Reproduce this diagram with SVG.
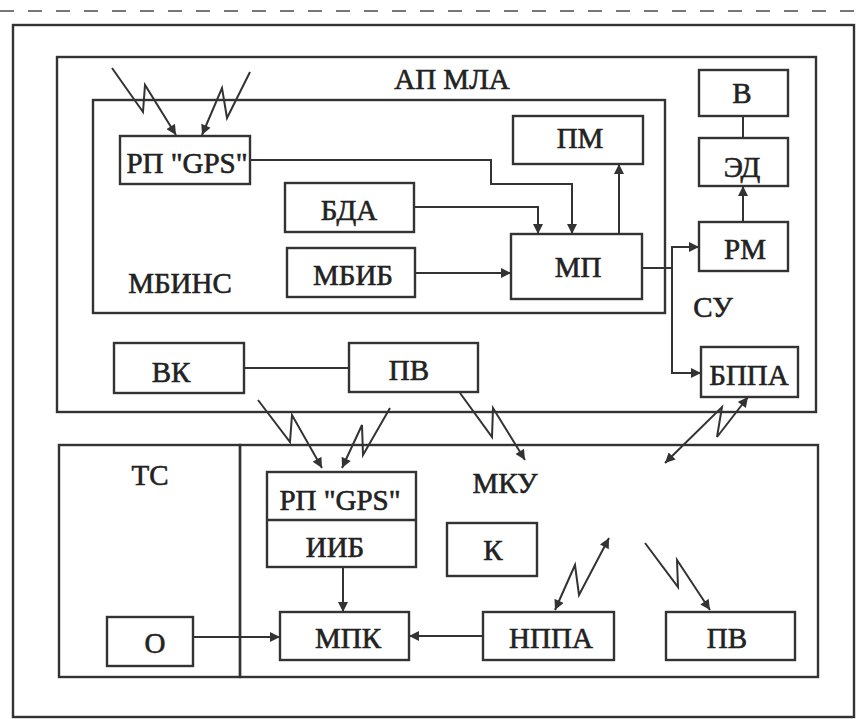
<svg xmlns="http://www.w3.org/2000/svg" width="859" height="719" viewBox="0 0 859 719">
<style>
.b{fill:none;stroke:#333;stroke-width:2.4}
.c{fill:none;stroke:#333;stroke-width:2}
.t{font-family:"Liberation Serif","DejaVu Serif",serif;font-size:29px;fill:#222;stroke:#222;stroke-width:0.6;text-anchor:middle}
</style>
<defs>
<marker id="ah" viewBox="0 0 10 10" refX="10" refY="5" markerWidth="11" markerHeight="10" markerUnits="userSpaceOnUse" orient="auto-start-reverse">
<path d="M0,0 L10,5 L0,10 Z" fill="#333"/>
</marker>
</defs>
<rect width="859" height="719" fill="#fff"/>
<line x1="0" y1="11" x2="859" y2="11" stroke="#777" stroke-width="2" stroke-dasharray="14 14"/>
<rect id="outer" class="b" x="13" y="25" width="841" height="692"/>
<g id="apmla"><rect class="b" x="57" y="57" width="759" height="355"/><text class="t" x="452" y="89">АП МЛА</text></g>
<g id="mbins"><rect class="b" x="93" y="100" width="572" height="213"/><text class="t" x="180" y="293">МБИНС</text></g>
<g id="rp1"><rect class="b" x="120" y="136" width="130" height="48"/><text class="t" x="187" y="173">РП "GPS"</text></g>
<g id="pm"><rect class="b" x="513" y="116" width="130" height="48"/><text class="t" x="580" y="148">ПМ</text></g>
<g id="bda"><rect class="b" x="285" y="183" width="129" height="49"/><text class="t" x="349" y="220">БДА</text></g>
<g id="mbib"><rect class="b" x="287" y="248" width="128" height="49"/><text class="t" x="353" y="285">МБИБ</text></g>
<g id="mp"><rect class="b" x="511" y="234" width="131" height="65"/><text class="t" x="578" y="277">МП</text></g>
<g id="v"><rect class="b" x="699" y="70" width="89" height="46"/><text class="t" x="742" y="103">В</text></g>
<g id="ed"><rect class="b" x="699" y="138" width="89" height="48"/><text class="t" x="742" y="177">ЭД</text></g>
<g id="rm"><rect class="b" x="699" y="222" width="89" height="49"/><text class="t" x="745" y="259">РМ</text></g>
<g id="su"><text class="t" x="713" y="317">СУ</text></g>
<g id="bppa"><rect class="b" x="701" y="347" width="97" height="50"/><text class="t" x="749" y="385">БППА</text></g>
<g id="vk"><rect class="b" x="114" y="343" width="130" height="50"/><text class="t" x="171" y="382">ВК</text></g>
<g id="pv1"><rect class="b" x="349" y="343" width="129" height="49"/><text class="t" x="409" y="380">ПВ</text></g>
<g id="ts"><rect class="b" x="59" y="445" width="181" height="232"/><text class="t" x="150" y="485">ТС</text></g>
<g id="mku"><rect class="b" x="240" y="445" width="578" height="232"/><text class="t" x="505" y="493">МКУ</text></g>
<g id="rp2"><rect class="b" x="267" y="472" width="149" height="95"/><line class="b" x1="267" y1="520" x2="416" y2="520"/><text class="t" x="340" y="510">РП "GPS"</text><text class="t" x="335" y="557">ИИБ</text></g>
<g id="k"><rect class="b" x="447" y="523" width="90" height="53"/><text class="t" x="493" y="560">К</text></g>
<g id="o"><rect class="b" x="107" y="617" width="86" height="49"/><text class="t" x="155" y="653">О</text></g>
<g id="mpk"><rect class="b" x="280" y="612" width="129" height="48"/><text class="t" x="348" y="648">МПК</text></g>
<g id="nppa"><rect class="b" x="483" y="612" width="131" height="48"/><text class="t" x="551" y="648">НППА</text></g>
<g id="pv2"><rect class="b" x="666" y="612" width="129" height="48"/><text class="t" x="727" y="648">ПВ</text></g>
<g id="connectors">
<polyline class="c" points="250,160 491,160 491,184 572,184 572,234" marker-end="url(#ah)"/>
<polyline class="c" points="414,207 538,207 538,234" marker-end="url(#ah)"/>
<line class="c" x1="415" y1="273" x2="511" y2="273" marker-end="url(#ah)"/>
<line class="c" x1="619" y1="234" x2="619" y2="164" marker-end="url(#ah)"/>
<line class="c" x1="642" y1="268" x2="672" y2="268"/>
<polyline class="c" points="699,247 672,247 672,373 701,373" marker-start="url(#ah)" marker-end="url(#ah)"/>
<line class="c" x1="743" y1="222" x2="743" y2="186" marker-end="url(#ah)"/>
<line class="c" x1="743" y1="116" x2="743" y2="138"/>
<line class="c" x1="244" y1="368" x2="349" y2="368"/>
<line class="c" x1="343" y1="567" x2="343" y2="612" marker-end="url(#ah)"/>
<line class="c" x1="193" y1="637" x2="280" y2="637" marker-end="url(#ah)"/>
<line class="c" x1="483" y1="636" x2="409" y2="636" marker-end="url(#ah)"/>
<polyline class="c" points="112,68 143,112 145,85 176,135" marker-end="url(#ah)"/>
<polyline class="c" points="250,72 227,118 222,88 202,135" marker-end="url(#ah)"/>
<polyline class="c" points="258,400 290,442 292,415 322,468" marker-end="url(#ah)"/>
<polyline class="c" points="390,408 363,455 362,425 342,468" marker-end="url(#ah)"/>
<polyline class="c" points="460,393 492,437 493,408 525,460" marker-end="url(#ah)"/>
<polyline class="c" points="665,463 722,407 717,437 748,397" marker-start="url(#ah)" marker-end="url(#ah)"/>
<polyline class="c" points="555,610 575,565 579,595 609,538" marker-start="url(#ah)" marker-end="url(#ah)"/>
<polyline class="c" points="645,543 678,587 677,560 710,610" marker-end="url(#ah)"/>
</g>
</svg>
